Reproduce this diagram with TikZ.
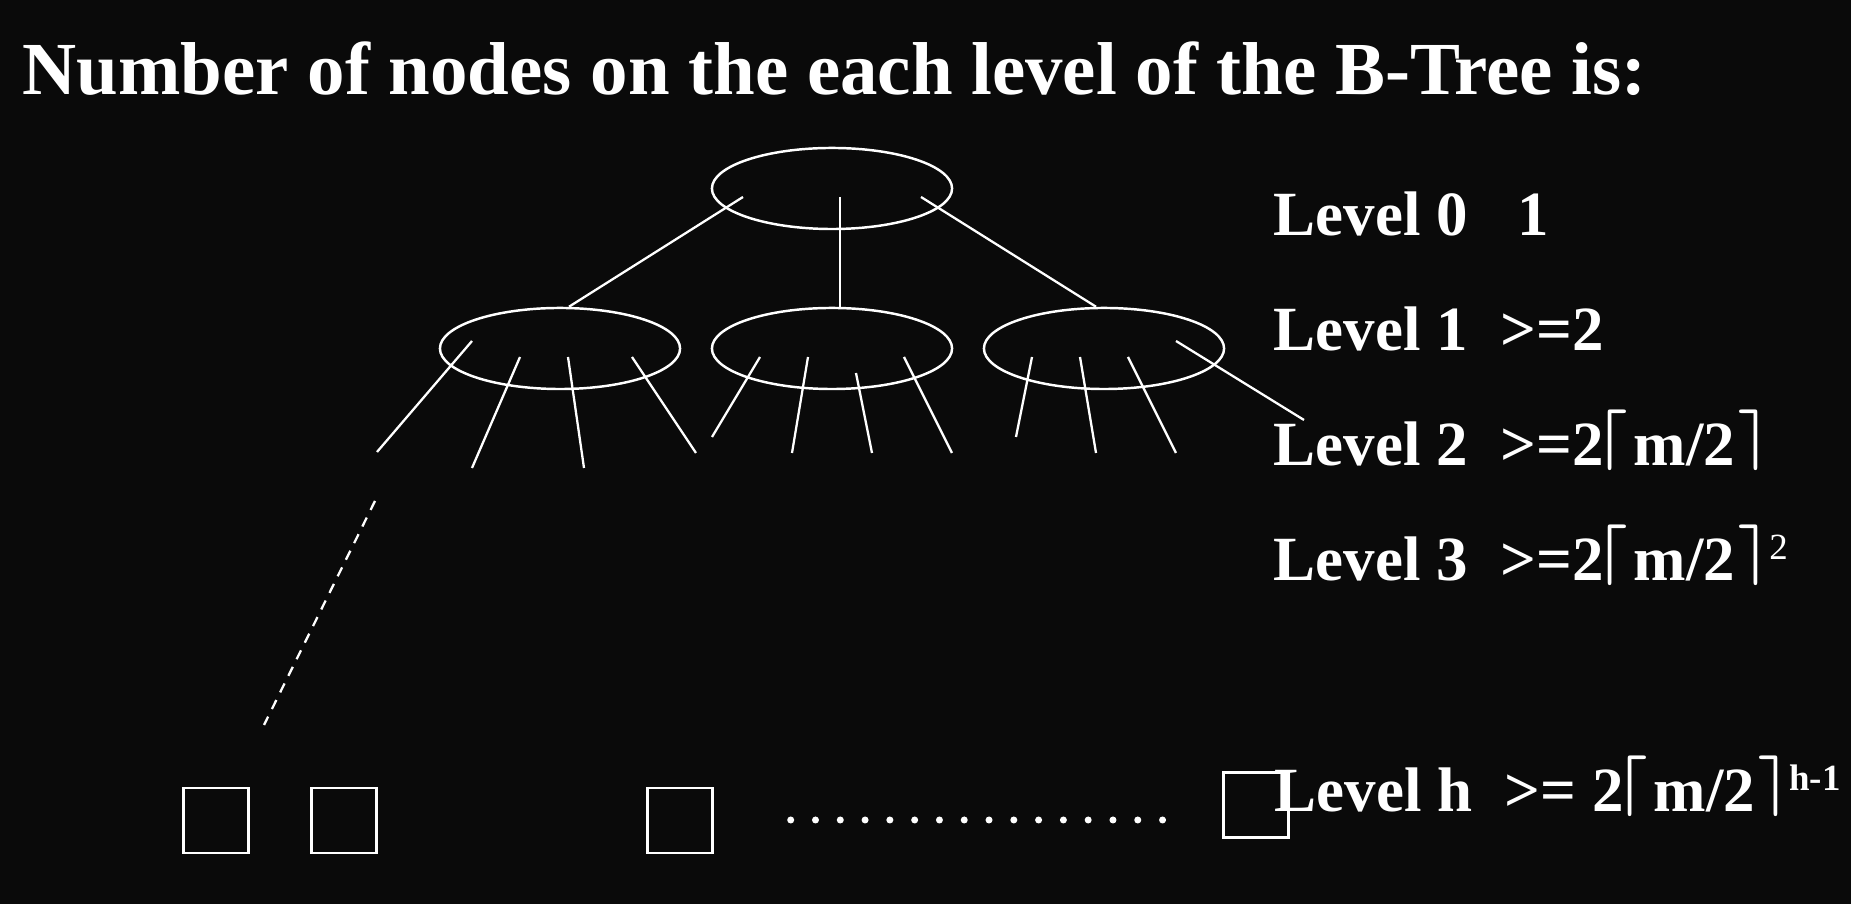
\documentclass[tikz,border=0pt]{standalone}
\usepackage{fontspec}
\setmainfont{Liberation Serif}
\usepackage{xcolor}
\definecolor{BTbg}{HTML}{0A0A0A}
\definecolor{BTink}{HTML}{FFFFFF}
\usepackage{tikz}
\usetikzlibrary{calc, shapes.geometric, positioning}

% ceiling brackets and small raised exponents
\newcommand{\ceilL}{\kern-0.07cm\raisebox{0.1cm}{\boldmath$\lceil$}\kern0.06cm}
\newcommand{\ceilR}{\kern0.03cm\raisebox{0.1cm}{\boldmath$\rceil$}}
\newcommand{\supscr}[1]{\raisebox{0.21cm}{\fontsize{10.5}{12}\selectfont #1}}

\begin{document}
\begin{tikzpicture}[x=0.01cm, y=-0.01cm]
  \tikzset{
    bnode/.style={ellipse, draw=BTink, line width=0.7pt, minimum width=2.4cm,
                  minimum height=0.81cm, inner sep=0},
    leaf/.style={draw=BTink, line width=0.7pt, minimum size=0.65cm, inner sep=0},
    edge/.style={BTink, line width=0.65pt},
    titlelab/.style={BTink, anchor=base west, inner sep=0,
                     font=\fontsize{21.3}{25}\selectfont\bfseries},
    levellab/.style={BTink, anchor=base west, inner sep=0,
                     font=\fontsize{17.9}{21}\selectfont\bfseries},
  }
% ── Background and title ────────────────────────────────────
\fill[BTbg] (0,0) rectangle (1851,904);
\useasboundingbox (0,0) rectangle (1851,904);
\node[titlelab] (title) at (22,95)
  {Number of nodes on the each level of the B-Tree is:};

% ── Root and level-1 nodes ──────────────────────────────────
\node[bnode] (root) at (832,188.5) {};
\node[bnode] (c1) at (560,348.5) {};
\node[bnode] (c2) at (832,348.5) {};
\node[bnode] (c3) at (1104,348.5) {};

\draw[edge] ($(root)+(-89,8.5)$) -- ($(c1.north)+(9,0)$);
\draw[edge] ($(root)+(8,8.5)$) -- ($(c2.north)+(8,0)$);
\draw[edge] ($(root)+(89,8.5)$) -- ($(c3.north)+(-8,0)$);

% ── Pointers leaving the level-1 nodes ──────────────────────
\foreach \sx/\sy/\ex/\ey [count=\i] in
  {-88/-7.5/377/452, -40/8.5/472/468, 8/8.5/584/468, 72/8.5/696/453}
  {\coordinate (p1\i) at (\ex,\ey);
   \draw[edge] ($(c1)+(\sx,\sy)$) -- (p1\i);}
\foreach \sx/\sy/\ex/\ey [count=\i] in
  {-72/8.5/712/437, -24/8.5/792/453, 24/24.5/872/453, 72/8.5/952/453}
  {\coordinate (p2\i) at (\ex,\ey);
   \draw[edge] ($(c2)+(\sx,\sy)$) -- (p2\i);}
\foreach \sx/\sy/\ex/\ey [count=\i] in
  {-72/8.5/1016/437, -24/8.5/1096/453, 24/8.5/1176/453, 72/-7.5/1304/420}
  {\coordinate (p3\i) at (\ex,\ey);
   \draw[edge] ($(c3)+(\sx,\sy)$) -- (p3\i);}

% dashed descent to the leaves
\coordinate (dtop) at (375,501);
\coordinate (dbot) at (264,725);
\draw[edge, dash pattern=on 0.1cm off 0.085cm] (dtop) -- (dbot);

% ── Leaf level ──────────────────────────────────────────────
\node[leaf] (s1) at (216,820.5) {};
\node[leaf] (s2) at (344,820.5) {};
\node[leaf] (s3) at (680,820.5) {};
\node[leaf] (s4) at (1256,805) {};
\foreach \k in {0,...,15}
  \fill[BTink] (790.7+\k*24.79,820) circle (0.035cm);

% ── Level counts ────────────────────────────────────────────
\foreach \n/\yy in {0/236, 1/351, 2/466, 3/581}
  \node[levellab] (lvl\n) at (1273,\yy) {Level \n};
\node[levellab] (lvlh) at (1274,812) {Level h};

\node[levellab] (val0) at (1517,236) {1};
\node[levellab] (val1) at (1500,351) {>=2};
\node[levellab] (val2) at (1500,466) {>=2\ceilL m/2\ceilR};
\node[levellab] (val3) at (1500,581) {>=2\ceilL m/2\ceilR\supscr{\mdseries 2}};
\node[levellab] (valh) at (1504,812) {>= 2\ceilL m/2\ceilR\supscr{h-1}};

\end{tikzpicture}
\end{document}
